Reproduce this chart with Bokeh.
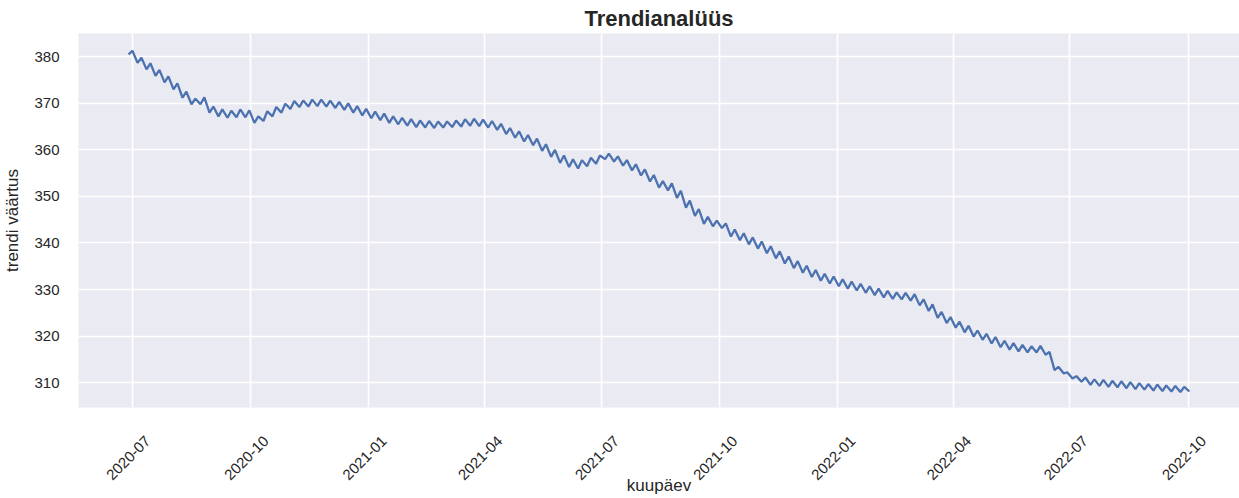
import math
import pandas as pd
from bokeh.plotting import figure
from bokeh.models import Range1d, FixedTicker, DatetimeTickFormatter, ColumnDataSource
from bokeh.embed import file_html
from bokeh.resources import INLINE

# Weekly trend values: the low point at the start of each week and the high point mid-week
weekly_lows = [
    380.5, 378.7, 377.3, 375.9, 374.5, 373.0, 371.2, 369.8, 369.8, 368.0,
    367.2, 366.9, 367.0, 367.0, 365.8, 366.2, 367.2, 368.0, 368.8, 369.2,
    369.3, 369.4, 369.3, 369.0, 368.6, 368.0, 367.4, 366.8, 366.4, 365.8,
    365.5, 365.2, 364.9, 364.8, 364.7, 364.8, 364.9, 365.0, 365.2, 365.1,
    364.8, 364.3, 363.4, 362.6, 361.8, 361.0, 359.8, 358.5, 357.2, 356.3,
    356.0, 356.5, 357.0, 358.0, 357.5, 356.6, 355.6, 354.5, 353.2, 351.9,
    351.3, 349.7, 347.6, 345.8, 344.1, 343.6, 343.2, 341.4, 340.6, 339.7,
    338.8, 337.8, 336.7, 335.6, 334.6, 333.6, 332.7, 331.9, 331.3, 330.7,
    330.2, 329.8, 329.3, 328.8, 328.3, 328.0, 327.9, 327.6, 326.6, 325.4,
    323.9, 322.8, 321.8, 320.8, 319.9, 319.2, 318.4, 317.6, 317.1, 316.7,
    316.5, 316.5, 316.0, 312.7, 312.0, 310.9, 310.2, 309.5, 309.3, 309.1,
    309.0, 308.8, 308.6, 308.5, 308.3, 308.2, 308.1, 308.0, 308.1,
]
weekly_highs = [
    381.3, 379.8, 378.6, 377.2, 375.8, 374.3, 372.5, 371.0, 371.3, 369.3,
    368.7, 368.4, 368.7, 368.5, 367.2, 368.3, 369.2, 369.9, 370.5, 370.6,
    370.8, 370.8, 370.6, 370.3, 370.0, 369.4, 368.8, 368.2, 367.8, 367.2,
    366.9, 366.6, 366.3, 366.2, 366.1, 366.1, 366.3, 366.6, 366.7, 366.5,
    366.2, 365.6, 364.7, 364.0, 363.2, 362.4, 361.2, 360.0, 358.8, 358.0,
    357.8, 358.3, 358.8, 359.2, 358.6, 357.8, 356.9, 355.8, 354.6, 353.3,
    352.8, 351.2, 349.1, 347.3, 345.6, 344.8, 344.2, 342.9, 342.1, 341.2,
    340.3, 339.3, 338.2, 337.1, 336.1, 335.1, 334.2, 333.4, 332.8, 332.2,
    331.7, 331.2, 330.7, 330.2, 329.7, 329.4, 329.3, 329.0, 327.9, 326.8,
    325.2, 324.1, 323.1, 322.2, 321.2, 320.5, 319.8, 319.0, 318.5, 318.1,
    317.8, 317.9, 316.6, 313.4, 312.2, 311.4, 311.1, 310.7, 310.6, 310.4,
    310.3, 310.1, 309.9, 309.7, 309.6, 309.4, 309.3, 309.1,
]
first_week = "2020-06-28"

tick_labels = ["2020-07", "2020-10", "2021-01", "2021-04", "2021-07",
               "2021-10", "2022-01", "2022-04", "2022-07", "2022-10"]
y_ticks = [310, 320, 330, 340, 350, 360, 370, 380]

# Interleave lows and highs into one time series
week_starts = pd.date_range(first_week, periods=len(weekly_lows), freq="7D")
dates, values = [], []
for i, d in enumerate(week_starts):
    dates.append(d)
    values.append(weekly_lows[i])
    if i < len(weekly_highs):
        dates.append(d + pd.Timedelta(days=3))
        values.append(weekly_highs[i])

src = ColumnDataSource(data=dict(date=dates, value=values))

FONT = "Liberation Sans"
TEXT = "#262626"

p = figure(
    width=1239, height=498,
    x_axis_type="datetime",
    x_range=Range1d(pd.Timestamp("2020-05-20"), pd.Timestamp("2022-11-10")),
    y_range=Range1d(304.66, 385.0),
    output_backend="svg", toolbar_location=None,
    title="Trendianalüüs",
    min_border_left=76, min_border_right=0, min_border_top=33, min_border_bottom=89,
)

p.background_fill_color = "#EAEAF2"
p.border_fill_color = "white"
p.outline_line_color = None

p.title.align = "center"
p.title.text_font = FONT
p.title.text_font_size = "22px"
p.title.text_font_style = "bold"
p.title.text_color = TEXT
p.title.standoff = 6

p.line("date", "value", source=src, line_color="#4C72B0", line_width=2.3)

# month starts carry the grid lines
tick_ms = [pd.Timestamp(t + "-01").value / 1e6 for t in tick_labels]
# rotated labels are anchored at their upper-right end, so their anchor sits a
# little later in the same month to leave each label centred under its grid line
label_ms = [(pd.Timestamp(t + "-01") + pd.Timedelta(days=12)).value / 1e6 for t in tick_labels]

p.xaxis.ticker = FixedTicker(ticks=label_ms)
fmt = "%Y-%m"
p.xaxis.formatter = DatetimeTickFormatter(
    years=fmt, months=fmt, days=fmt, hours=fmt, minutes=fmt,
    seconds=fmt, milliseconds=fmt, microseconds=fmt,
)
p.xaxis.major_label_orientation = math.pi / 4
p.yaxis.ticker = FixedTicker(ticks=y_ticks)

for ax in (p.xaxis, p.yaxis):
    ax.axis_line_color = None
    ax.major_tick_line_color = None
    ax.minor_tick_line_color = None
    ax.major_label_text_font = FONT
    ax.major_label_text_font_size = "15px"
    ax.major_label_text_color = TEXT
    ax.axis_label_text_font = FONT
    ax.axis_label_text_font_size = "17px"
    ax.axis_label_text_font_style = "normal"
    ax.axis_label_text_color = TEXT

p.xaxis.axis_label = "kuupäev"
p.yaxis.axis_label = "trendi väärtus"
p.yaxis.major_label_standoff = 13
p.xaxis.major_label_standoff = 25
p.yaxis.axis_label_standoff = 9
# the axis title sits between the slanted labels, so it may tuck up into their box
p.xaxis.axis_label_standoff = -11

p.xgrid.ticker = FixedTicker(ticks=tick_ms)
p.ygrid.ticker = FixedTicker(ticks=y_ticks)
for g in (p.xgrid, p.ygrid):
    g.grid_line_color = "white"
    g.grid_line_width = 1.6

open("out.html", "w").write(file_html(p, INLINE))
